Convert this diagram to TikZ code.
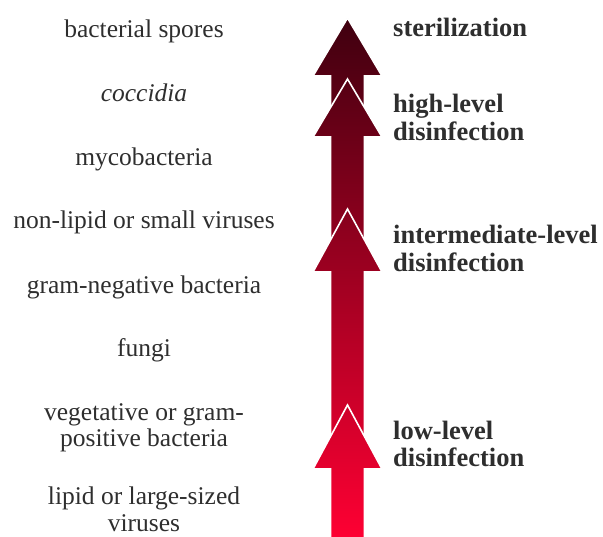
\documentclass[tikz,border=0pt]{standalone}
\usepackage{fontspec}
\setmainfont{Liberation Serif}
\usepackage{xcolor}
\definecolor{deepred}{HTML}{3F000F}
\definecolor{brightred}{HTML}{FF0033}
\definecolor{inkgray}{HTML}{2E2E2E}
\tikzset{
  organism/.style ={align=center, text=inkgray, inner sep=0pt, anchor=base,
                    font=\fontsize{25.5}{27}\selectfont},
  level/.style    ={align=left, text=inkgray, inner sep=0pt, anchor=base west,
                    font=\bfseries\fontsize{26.5}{28}\selectfont},
  levelarrow/.style={draw=white, line width=1.6pt, line join=miter},
}

\begin{document}
\begin{tikzpicture}[x=1pt, y=-1pt]
    \useasboundingbox (0,0) rectangle (603,537);

    % stacked arrows, top one first so each lower head sits over the shaft above
    \shade[levelarrow, top color=brightred!0!deepred, bottom color=brightred!23.5!deepred]
      (347.5,18) -- (382,76) -- (364.5,76) -- (364.5,140) -- (330.5,140) -- (330.5,76) -- (313,76) -- cycle;
    \shade[levelarrow, top color=brightred!11.9!deepred, bottom color=brightred!49.5!deepred]
      (347.5,79) -- (382,137) -- (364.5,137) -- (364.5,275) -- (330.5,275) -- (330.5,137) -- (313,137) -- cycle;
    \shade[levelarrow, top color=brightred!36.8!deepred, bottom color=brightred!87.1!deepred]
      (347.5,209) -- (382,272) -- (364.5,272) -- (364.5,470) -- (330.5,470) -- (330.5,272) -- (313,272) -- cycle;
    \shade[levelarrow, top color=brightred!74.6!deepred, bottom color=brightred!100!deepred]
      (347.5,405) -- (382,469) -- (364.5,469) -- (364.5,540) -- (330.5,540) -- (330.5,469) -- (313,469) -- cycle;

    % organisms, most resistant at the top (two-line nodes sit on their last line)
    \node[organism] (spores)  at (144,38)  {bacterial spores};
    \node[organism] (cocc)    at (144,102) {\itshape coccidia};
    \node[organism] (myco)    at (144,166) {mycobacteria};
    \node[organism] (nonlip)  at (144,229) {non-lipid or small viruses};
    \node[organism] (gramneg) at (144,294) {gram-negative bacteria};
    \node[organism] (fungi)   at (144,357) {fungi};
    \node[organism] (veg)     at (144,447) {vegetative or gram-\\positive bacteria};
    \node[organism] (lipid)   at (144,531) {lipid or large-sized\\viruses};

    % levels of treatment
    \node[level] (steril) at (393,37)  {sterilization};
    \node[level] (high)   at (393,141) {high-level\\disinfection};
    \node[level] (inter)  at (393,272) {intermediate-level\\disinfection};
    \node[level] (low)    at (393,467) {low-level\\disinfection};
  \end{tikzpicture}
\end{document}
